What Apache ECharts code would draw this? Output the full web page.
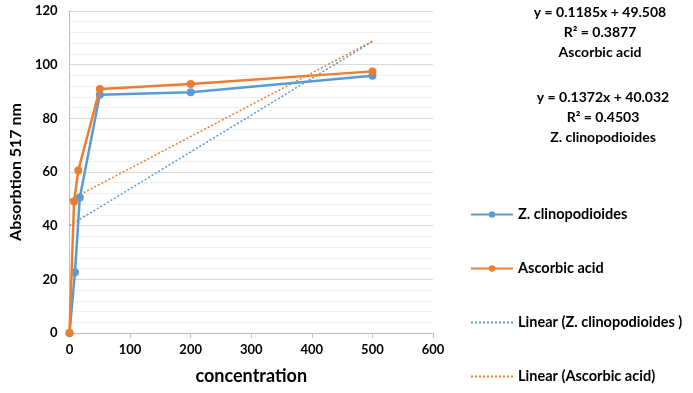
<!DOCTYPE html>
<html>
<head>
<meta charset="utf-8">
<script src="https://cdn.jsdelivr.net/npm/echarts@6/dist/echarts.min.js"></script>
<style>
html,body{margin:0;padding:0;background:#fff;}
#c{width:693px;height:393px;}
</style>
</head>
<body>
<div id="c"></div>
<script>
// Data
const zX = [0, 9, 17, 50, 200, 500];
const zY = [0, 22.6, 50.5, 88.8, 89.7, 95.9];
const aX = [0, 7.5, 14.5, 50, 200, 500];
const aY = [0, 49.0, 60.6, 90.9, 92.8, 97.5];
// Trend line endpoints (x, y)
const zTrendX = [0, 500];
const zTrendY = [40.032, 108.632];
const aTrendX = [0, 500];
const aTrendY = [49.508, 108.758];
const xTicks = [0, 100, 200, 300, 400, 500, 600];
const yTicks = [0, 20, 40, 60, 80, 100, 120];
const seriesNames = ['Z. clinopodioides', 'Ascorbic acid', 'Linear (Z. clinopodioides )', 'Linear (Ascorbic acid)'];
const annotA = ['y = 0.1185x + 49.508', 'R\u00B2 = 0.3877', 'Ascorbic acid'];
const annotZ = ['y = 0.1372x + 40.032', 'R\u00B2 = 0.4503', 'Z. clinopodioides'];

const pairs = (xs, ys) => xs.map((x, i) => [x, ys[i]]);
const BLUE = '#5B9BD5', ORANGE = '#ED7D31';
const FONT = 'Lato';

const chart = echarts.init(document.getElementById('c'));
const graphics = [];
const addText = (s, x, y) => graphics.push({ type: 'text', x: x, y: y,
  style: { text: s, fill: '#000', font: 'bold 14px ' + FONT, textAlign: 'center', textVerticalAlign: 'middle' } });
annotA.forEach((s, i) => addText(s, 600, 12 + i * 20));
annotZ.forEach((s, i) => addText(s, 603, 97 + i * 20));

chart.setOption({
  animation: false,
  backgroundColor: '#fff',
  grid: { left: 66, right: 260, top: 11, bottom: 60 },
  legend: {
    orient: 'vertical', left: 470, top: 207, padding: 0, height: 200,
    itemWidth: 42, itemHeight: 8, itemGap: 39,
    textStyle: { fontFamily: FONT, fontWeight: 'bold', fontSize: 14.5, lineHeight: 14, color: '#000' },
    data: [
      { name: seriesNames[0] },
      { name: seriesNames[1] },
      { name: seriesNames[2], itemStyle: { opacity: 0 } },
      { name: seriesNames[3], itemStyle: { opacity: 0 } }
    ]
  },
  xAxis: {
    type: 'value', min: 0, max: 600, interval: 100,
    name: 'concentration', nameLocation: 'middle', nameGap: 34,
    nameTextStyle: { fontFamily: FONT, fontWeight: 'bold', fontSize: 18, color: '#000' },
    axisLine: { lineStyle: { color: '#bfbfbf', width: 1 } },
    axisTick: { show: true, length: 5, lineStyle: { color: '#bfbfbf' } },
    axisLabel: { fontFamily: FONT, fontWeight: 'bold', fontSize: 13, color: '#000', margin: 10,
      formatter: v => xTicks.includes(v) ? String(v) : '' },
    splitLine: { show: false }
  },
  yAxis: {
    type: 'value', min: 0, max: 120, interval: 20,
    name: 'Absorbtion 517 nm', nameLocation: 'middle', nameGap: 42, nameRotate: 90,
    nameTextStyle: { fontFamily: FONT, fontWeight: 'bold', fontSize: 16, color: '#000' },
    axisLine: { show: true, lineStyle: { color: '#bfbfbf', width: 1 } },
    axisTick: { show: false },
    axisLabel: { fontFamily: FONT, fontWeight: 'bold', fontSize: 13, color: '#000', margin: 12,
      formatter: v => yTicks.includes(v) ? String(v) : '' },
    splitLine: { show: true, lineStyle: { color: '#d9d9d9', width: 1 } },
    minorTick: { show: false, splitNumber: 5 },
    minorSplitLine: { show: true, lineStyle: { color: '#f0f0f0', width: 1 } }
  },
  graphic: graphics,
  series: [
    { name: seriesNames[0], type: 'line', data: pairs(zX, zY), color: BLUE,
      symbol: 'circle', symbolSize: 8, lineStyle: { width: 2.5, color: BLUE }, itemStyle: { color: BLUE }, z: 3 },
    { name: seriesNames[1], type: 'line', data: pairs(aX, aY), color: ORANGE,
      symbol: 'circle', symbolSize: 8, lineStyle: { width: 2.5, color: ORANGE }, itemStyle: { color: ORANGE }, z: 4 },
    { name: seriesNames[2], type: 'line', data: pairs(zTrendX, zTrendY), color: BLUE,
      symbol: 'none', lineStyle: { width: 1.5, type: [2, 2], color: BLUE }, z: 2 },
    { name: seriesNames[3], type: 'line', data: pairs(aTrendX, aTrendY), color: ORANGE,
      symbol: 'none', lineStyle: { width: 1.5, type: [2, 2], color: ORANGE }, z: 2 }
  ]
});
</script>
</body>
</html>
